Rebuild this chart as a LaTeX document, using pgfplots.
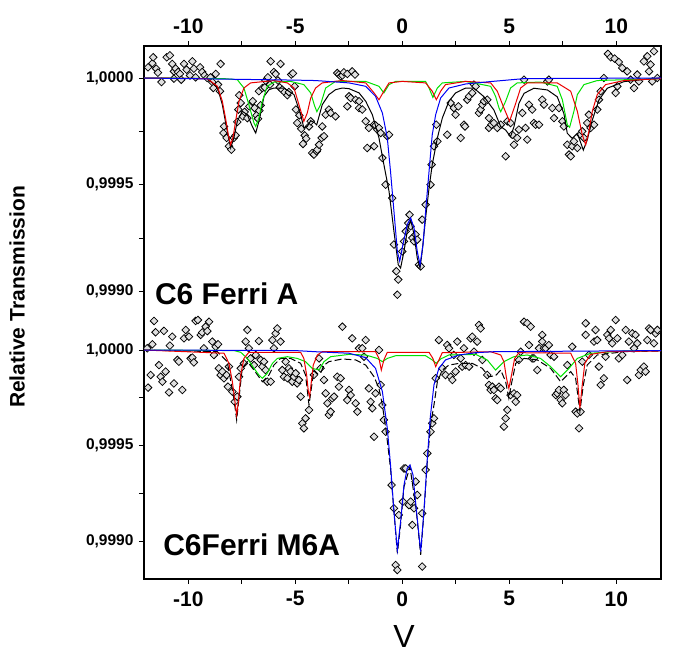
\documentclass[border=0pt]{standalone}
\usepackage{pgfplots}
\pgfplotsset{compat=1.18}
\usepackage{fontspec}
\setmainfont{Liberation Sans}
\definecolor{fitred}{RGB}{235,0,0}
\definecolor{fitgreen}{RGB}{0,225,0}
\definecolor{fitblue}{RGB}{0,0,245}
\begin{document}
\begin{tikzpicture}
\useasboundingbox (0pt,0pt) rectangle (675pt,664pt);
\pgfplotsset{
  panel/.style={
    scale only axis, width=517pt,
    xmin=-12.07, xmax=12.09,
    xtick={-10,-5,0,5,10}, minor xtick={-7.5,-2.5,2.5,7.5},
    ytick={0.999,0.9995,1}, minor ytick={0.99925,0.99975},
    tick align=outside, major tick length=5pt, minor tick length=5pt,
    ytick pos=left,
    axis line style={draw=none},
    tick style={black, line width=0.9pt},
    clip mode=individual,
    /pgf/number format/assume math mode=true,
    scaled y ticks=false,
    yticklabel style={/pgf/number format/fixed, /pgf/number format/fixed zerofill,
      /pgf/number format/precision=4, /pgf/number format/use comma,
      font=\bfseries\fontsize{15.5}{15.5}\selectfont, xshift=-2pt},
    xticklabel style={font=\bfseries\fontsize{21}{21}\selectfont},
  },
  pts/.style={only marks, mark=square*, mark size=2.7pt,
    mark options={rotate=45, fill=gray!25, draw=black, line width=0.75pt}},
  fit/.style={no marks, line width=1pt},
}
% ---------------- top panel ----------------
\begin{axis}[panel, at={(144pt,352pt)}, anchor=south west, height=266pt,
  ymin=0.998903, ymax=1.000150,
  xtick pos=right, xticklabel pos=right,
  xticklabel style={yshift=4pt}]
\draw[line width=1.2pt] (rel axis cs:0,0) -- (rel axis cs:0,1) -- (rel axis cs:1,1) -- (rel axis cs:1,0);
\addplot[pts] coordinates {
(-11.88,1.000050) (-11.68,1.000069) (-11.64,1.000097) (-11.50,1.000044) (-11.42,1.000025)
(-11.25,0.999981) (-11.01,1.000097) (-10.86,1.000106) (-10.75,1.000066) (-10.67,1.000031)
(-10.67,0.999997) (-10.59,1.000044) (-10.48,1.000028) (-10.39,1.000019) (-10.33,0.999992)
(-10.20,1.000066) (-10.08,1.000039) (-9.92,1.000012) (-9.81,1.000078) (-9.74,1.000044)
(-9.66,1.000003) (-9.45,1.000050) (-9.35,1.000028) (-9.24,1.000012) (-9.12,1.000000)
(-8.96,1.000003) (-8.88,0.999981) (-8.83,0.999953) (-8.72,1.000019) (-8.61,0.999969)
(-8.52,0.999938) (-8.49,1.000066) (-8.36,0.999742) (-8.33,0.999773) (-8.21,0.999719)
(-8.10,0.999680) (-7.99,0.999664) (-7.87,0.999719) (-7.79,0.999731) (-7.71,0.999794)
(-7.66,0.999852) (-7.62,0.999919) (-7.55,0.999883) (-7.45,0.999820) (-7.37,0.999841)
(-7.24,0.999812) (-7.15,0.999867) (-6.99,0.999891) (-6.90,0.999859) (-6.81,0.999825)
(-6.74,0.999809) (-6.70,0.999938) (-6.68,0.999847) (-6.62,0.999872) (-6.54,0.999953)
(-6.43,0.999956) (-6.39,0.999988) (-6.28,1.000003) (-6.18,0.999969) (-6.15,1.000078)
(-6.00,1.000028) (-5.92,1.000019) (-5.81,0.999988) (-5.73,0.999956) (-5.69,1.000066)
(-5.61,0.999945) (-5.50,0.999934) (-5.37,0.999919) (-5.30,0.999934) (-5.19,1.000016)
(-5.11,1.000022) (-5.03,0.999961) (-4.97,0.999852) (-4.91,0.999789) (-4.81,0.999825)
(-4.72,0.999762) (-4.64,0.999691) (-4.56,0.999731) (-4.49,0.999716) (-4.36,0.999773)
(-4.28,0.999797) (-4.21,0.999648) (-4.13,0.999641) (-4.00,0.999656) (-3.97,0.999664)
(-3.89,0.999687) (-3.77,0.999719) (-3.74,0.999773) (-3.66,0.999727) (-3.58,0.999828)
(-3.43,0.999852) (-3.35,0.999836) (-3.12,0.999820) (-3.04,1.000023) (-2.96,1.000016)
(-2.88,1.000008) (-2.80,1.000012) (-2.73,1.000027) (-2.57,1.000019) (-2.57,0.999867)
(-2.49,0.999914) (-2.41,0.999906) (-2.34,1.000031) (-2.21,1.000016) (-2.18,0.999898)
(-2.02,0.999891) (-2.02,0.999859) (-1.87,0.999852) (-1.71,0.999797) (-1.64,0.999672)
(-1.56,0.999766) (-1.32,0.999781) (-1.32,0.999680) (-1.25,0.999778) (-1.17,0.999758)
(-1.09,0.999766) (-1.01,0.999742) (-0.93,0.999625) (-0.78,0.999500) (-0.70,0.999727)
(-0.62,0.999734) (-0.47,0.999437) (-0.39,0.999219) (-0.28,0.999094) (-0.23,0.998984)
(-0.19,0.999055) (0.00,0.999187) (0.08,0.999234) (0.16,0.999281) (0.28,0.999320)
(0.34,0.999359) (0.39,0.999305) (0.47,0.999250) (0.55,0.999234) (0.62,0.999266)
(0.70,0.999242) (0.78,0.999125) (0.86,0.999117) (0.93,0.999336) (1.09,0.999406)
(1.32,0.999500) (1.37,0.999594) (1.48,0.999680) (1.59,0.999781) (1.64,0.999703)
(2.10,0.999734) (2.26,0.999883) (2.41,0.999859) (2.49,0.999828) (2.62,0.999867)
(2.73,0.999719) (2.88,0.999781) (2.93,0.999773) (3.04,0.999898) (3.12,0.999914)
(3.27,0.999930) (3.35,0.999969) (3.43,0.999961) (3.58,0.999836) (3.66,0.999852)
(3.74,0.999875) (3.82,0.999891) (3.97,0.999898) (4.05,0.999812) (4.05,0.999766)
(4.17,0.999781) (4.28,0.999789) (4.44,0.999766) (4.60,0.999781) (4.83,0.999633)
(4.91,0.999797) (5.06,0.999789) (5.14,0.999734) (5.22,0.999687) (5.37,0.999719)
(5.45,0.999758) (5.61,0.999836) (5.69,0.999992) (5.76,0.999766) (5.84,0.999711)
(5.92,0.999875) (6.07,0.999852) (6.15,0.999789) (6.23,0.999781) (6.39,0.999781)
(6.54,0.999898) (6.62,0.999875) (6.78,0.999984) (6.85,0.999992) (7.01,0.999859)
(7.09,0.999812) (7.32,0.999859) (7.48,0.999797) (7.55,0.999773) (7.71,0.999687)
(7.79,0.999641) (7.87,0.999633) (7.94,0.999680) (8.02,0.999703) (8.18,0.999672)
(8.33,0.999734) (8.41,0.999750) (8.49,0.999719) (8.64,0.999789) (8.72,0.999828)
(8.80,0.999766) (8.96,0.999781) (9.11,0.999852) (9.19,0.999898) (9.27,0.999938)
(9.42,1.000000) (9.61,1.000113) (9.74,1.000097) (9.92,1.000091) (9.97,0.999930)
(10.05,0.999961) (10.12,1.000075) (10.28,1.000047) (10.51,1.000031) (10.67,0.999992)
(10.83,0.999953) (10.98,1.000016) (11.06,0.999984) (11.29,1.000078) (11.45,1.000102)
(11.53,1.000031) (11.60,1.000063) (11.68,0.999984) (11.76,1.000125) (11.92,1.000000)
};
% total fit (black)
\addplot[fit, black] coordinates {
(-12.07,1.000000) (-9.11,0.999997) (-8.64,0.999956) (-8.41,0.999875) (-8.21,0.999766)
(-8.02,0.999672) (-7.87,0.999719) (-7.71,0.999797) (-7.48,0.999844) (-7.24,0.999828)
(-7.01,0.999773) (-6.85,0.999742) (-6.70,0.999797) (-6.46,0.999914) (-6.23,0.999945)
(-6.00,0.999953) (-5.53,0.999953) (-5.06,0.999922) (-4.75,0.999828) (-4.60,0.999766)
(-4.44,0.999773) (-4.28,0.999800) (-4.10,0.999790) (-4.00,0.999780) (-3.74,0.999875)
(-3.43,0.999922) (-3.12,0.999945) (-2.80,0.999953) (-2.49,0.999950) (-2.02,0.999930)
(-1.71,0.999891) (-1.40,0.999828) (-1.09,0.999719) (-0.86,0.999594) (-0.62,0.999469)
(-0.39,0.999281) (-0.19,0.999125) (-0.08,0.999109) (0.08,0.999187) (0.23,0.999281)
(0.39,0.999336) (0.55,0.999266) (0.70,0.999156) (0.83,0.999109) (0.93,0.999187)
(1.09,0.999344) (1.25,0.999484) (1.40,0.999594) (1.64,0.999719) (1.87,0.999812)
(2.18,0.999891) (2.49,0.999930) (2.96,0.999953) (3.35,0.999952) (3.82,0.999912)
(4.28,0.999850) (4.60,0.999772) (4.83,0.999756) (5.06,0.999725) (5.22,0.999772)
(5.45,0.999881) (5.69,0.999928) (6.15,0.999952) (6.78,0.999944) (7.24,0.999912)
(7.55,0.999834) (7.71,0.999741) (7.94,0.999717) (8.18,0.999741) (8.46,0.999662)
(8.64,0.999709) (8.88,0.999803) (9.19,0.999897) (9.58,0.999952) (10.36,0.999983)
(11.76,0.999998) (12.09,1.000000)
};
% green sextet
\addplot[fit, fitgreen] coordinates {
(-12.07,1.000000) (-8.33,0.999997) (-7.71,0.999992) (-7.40,0.999953) (-7.17,0.999875)
(-6.93,0.999789) (-6.85,0.999773) (-6.70,0.999812) (-6.54,0.999891) (-6.31,0.999961)
(-6.00,0.999981) (-5.22,0.999984) (-4.60,0.999969) (-4.28,0.999930) (-4.10,0.999870)
(-3.99,0.999842) (-3.82,0.999875) (-3.58,0.999953) (-3.12,0.999984) (-1.71,0.999984)
(-1.09,0.999961) (-0.86,0.999930) (-0.62,0.999969) (-0.31,0.999984) (1.09,0.999984)
(1.25,0.999953) (1.43,0.999909) (1.64,0.999953) (1.87,0.999977) (2.96,0.999984)
(3.74,0.999969) (4.13,0.999961) (4.36,0.999914) (4.52,0.999859) (4.60,0.999842)
(4.83,0.999891) (5.06,0.999953) (5.37,0.999977) (6.46,0.999981) (7.24,0.999961)
(7.48,0.999898) (7.71,0.999781) (7.82,0.999769) (8.02,0.999844) (8.18,0.999922)
(8.49,0.999969) (9.11,0.999988) (12.09,0.999997)
};
% red sextet
\addplot[fit, fitred] coordinates {
(-12.07,1.000000) (-9.11,0.999997) (-8.64,0.999961) (-8.41,0.999891) (-8.26,0.999812)
(-8.13,0.999734) (-8.02,0.999687) (-7.90,0.999727) (-7.79,0.999797) (-7.63,0.999891)
(-7.40,0.999953) (-7.09,0.999977) (-6.00,0.999988) (-5.37,0.999977) (-5.06,0.999953)
(-4.83,0.999875) (-4.60,0.999797) (-4.44,0.999836) (-4.28,0.999906) (-4.05,0.999953)
(-3.74,0.999977) (-2.80,0.999988) (-1.71,0.999977) (-1.32,0.999930) (-1.09,0.999898)
(-0.86,0.999938) (-0.62,0.999977) (0.00,0.999984) (1.09,0.999977) (1.40,0.999938)
(1.59,0.999898) (1.79,0.999938) (2.02,0.999969) (2.96,0.999984) (4.13,0.999977)
(4.44,0.999938) (4.75,0.999859) (5.01,0.999797) (5.28,0.999875) (5.53,0.999953)
(5.84,0.999977) (7.24,0.999977) (7.87,0.999938) (8.18,0.999844) (8.41,0.999734)
(8.57,0.999687) (8.72,0.999750) (8.88,0.999844) (9.11,0.999922) (9.50,0.999969)
(10.36,0.999988) (12.09,0.999997)
};
% blue doublet
\addplot[fit, fitblue] coordinates {
(-12.07,1.000000) (-5.00,0.999990) (-4.05,0.999988) (-2.49,0.999977) (-1.71,0.999961)
(-1.25,0.999914) (-0.93,0.999836) (-0.70,0.999719) (-0.55,0.999562) (-0.39,0.999375)
(-0.23,0.999187) (-0.12,0.999141) (0.03,0.999219) (0.23,0.999312) (0.39,0.999344)
(0.55,0.999297) (0.70,0.999187) (0.83,0.999125) (0.97,0.999219) (1.09,0.999375)
(1.25,0.999562) (1.40,0.999734) (1.56,0.999828) (1.79,0.999906) (2.18,0.999953)
(2.96,0.999972) (4.21,0.999984) (5.69,0.999997) (12.09,1.000000)
};
\node[anchor=base west, font=\bfseries\fontsize{30}{30}\selectfont, inner sep=0pt]
  at (rel axis cs:0.021,0.027) {C6 Ferri A};
\end{axis}
% ---------------- bottom panel ----------------
\begin{axis}[panel, at={(144pt,85pt)}, anchor=south west, height=267pt,
  ymin=0.998801, ymax=1.000199,
  xtick pos=left, xticklabel pos=left,
  xticklabel style={yshift=-4pt}]
\draw[line width=1.2pt] (rel axis cs:0,1) -- (rel axis cs:0,0) -- (rel axis cs:1,0) -- (rel axis cs:1,1);
\addplot[pts] coordinates {
(-11.92,1.000009) (-11.88,0.999803) (-11.76,0.999869) (-11.68,1.000030) (-11.60,1.000152)
(-11.53,1.000093) (-11.37,0.999921) (-11.29,0.999860) (-11.21,0.999834) (-11.14,1.000100)
(-11.06,0.999887) (-10.90,0.999778) (-10.86,1.000023) (-10.75,1.000070) (-10.67,0.999825)
(-10.51,0.999948) (-10.44,0.999939) (-10.28,0.999791) (-10.20,1.000061) (-10.12,1.000105)
(-9.97,1.000070) (-9.89,0.999956) (-9.81,0.999960) (-9.74,0.999935) (-9.66,1.000152)
(-9.55,1.000157) (-9.42,1.000079) (-9.35,1.000092) (-9.27,1.000009) (-9.19,1.000122)
(-9.11,1.000099) (-9.03,1.000148) (-8.88,1.000044) (-8.80,0.999974) (-8.72,1.000017)
(-8.61,1.000030) (-8.57,0.999904) (-8.49,0.999869) (-8.41,0.999887) (-8.33,0.999852)
(-8.21,0.999869) (-8.15,0.999808) (-8.10,0.999913) (-7.94,0.999782) (-7.83,0.999729)
(-7.71,0.999756) (-7.63,0.999860) (-7.55,0.999904) (-7.40,0.999930) (-7.32,1.000044)
(-7.24,1.000105) (-7.17,1.000009) (-7.09,0.999956) (-6.93,0.999921) (-6.85,0.999974)
(-6.70,1.000047) (-6.62,0.999948) (-6.54,0.999913) (-6.46,0.999939) (-6.39,0.999895)
(-6.31,0.999834) (-6.15,0.999834) (-6.07,1.000052) (-6.00,1.000009) (-5.92,1.000087)
(-5.84,1.000113) (-5.69,1.000044) (-5.61,0.999895) (-5.53,0.999860) (-5.45,0.999939)
(-5.37,0.999852) (-5.30,0.999904) (-5.22,0.999887) (-5.14,0.999834) (-5.06,0.999860)
(-4.98,0.999878) (-4.91,0.999825) (-4.83,0.999843) (-4.75,0.999756) (-4.67,0.999616)
(-4.60,0.999590) (-4.52,0.999642) (-4.36,0.999686) (-4.13,0.999870) (-3.89,0.999956)
(-3.82,0.999904) (-3.66,0.999843) (-3.58,0.999773) (-3.50,0.999721) (-3.43,0.999660)
(-3.35,0.999677) (-3.27,0.999747) (-3.19,0.999756) (-3.04,0.999860) (-2.96,0.999808)
(-2.88,0.999852) (-2.80,1.000122) (-2.57,0.999738) (-2.49,0.999791) (-2.41,0.999764)
(-2.34,1.000061) (-2.18,0.999721) (-2.10,0.999677) (-2.02,1.000009) (-1.87,1.000009)
(-1.79,0.999965) (-1.71,1.000052) (-1.56,0.999799) (-1.48,0.999729) (-1.40,0.999695)
(-1.32,0.999546) (-1.25,0.999773) (-1.09,1.000000) (-1.01,0.999817) (-0.93,0.999712)
(-0.86,0.999634) (-0.78,0.999572) (-0.50,0.999293) (-0.39,0.999171) (-0.31,0.998874)
(-0.23,0.998848) (-0.16,0.999136) (0.03,0.999206) (0.08,0.999380) (0.16,0.999380)
(0.31,0.999188) (0.39,0.999206) (0.47,0.999084) (0.55,0.999171) (0.62,0.999311)
(0.70,0.999241) (0.93,0.998866) (0.93,0.999145) (1.09,0.999372) (1.17,0.999459)
(1.32,0.999572) (1.40,0.999616) (1.48,0.999642) (1.56,0.999852) (1.71,1.000052)
(1.87,0.999904) (2.02,0.999869) (2.10,1.000026) (2.18,1.000009) (2.26,0.999860)
(2.34,0.999843) (2.41,0.999974) (2.49,0.999887) (2.57,1.000044) (2.73,0.999956)
(2.80,0.999913) (2.88,1.000009) (2.96,0.999921) (3.12,0.999913) (3.19,1.000061)
(3.27,1.000070) (3.35,0.999991) (3.50,1.000044) (3.58,1.000131) (3.66,1.000113)
(3.74,0.999948) (3.97,0.999869) (4.05,0.999817) (4.13,0.999791) (4.21,0.999808)
(4.28,0.999791) (4.36,0.999747) (4.44,0.999738) (4.52,0.999808) (4.60,0.999799)
(4.75,0.999599) (4.83,0.999642) (4.91,0.999686) (5.06,0.999764) (5.22,0.999773)
(5.30,0.999729) (5.37,0.999764) (5.45,0.999948) (5.53,0.999991) (5.69,1.000148)
(5.84,1.000140) (5.92,1.000026) (6.00,1.000122) (6.07,0.999956) (6.15,0.999956)
(6.31,0.999895) (6.39,1.000009) (6.54,1.000079) (6.54,1.000044) (6.62,1.000009)
(6.70,1.000009) (6.85,1.000026) (6.93,0.999974) (7.09,0.999965) (7.17,0.999764)
(7.24,0.999773) (7.32,0.999791) (7.40,0.999738) (7.48,0.999721) (7.55,0.999791)
(7.63,0.999764) (7.71,0.999921) (7.94,1.000017) (8.10,0.999677) (8.18,0.999668)
(8.26,0.999590) (8.33,0.999677) (8.41,0.999939) (8.57,1.000140) (8.57,1.000079)
(8.72,0.999974) (8.96,1.000044) (9.03,1.000105) (9.11,1.000052) (9.19,0.999913)
(9.27,0.999817) (9.42,0.999852) (9.50,0.999965) (9.58,1.000079) (9.66,1.000061)
(9.74,1.000105) (9.81,1.000035) (9.97,1.000157) (10.05,1.000061) (10.12,0.999956)
(10.28,0.999974) (10.44,1.000105) (10.51,0.999843) (10.59,1.000044) (10.75,1.000087)
(10.83,1.000009) (10.90,1.000079) (10.98,1.000035) (11.06,0.999869) (11.14,0.999895)
(11.29,0.999913) (11.37,0.999887) (11.45,1.000052) (11.53,1.000113) (11.60,1.000105)
(11.76,1.000035) (11.84,1.000087) (11.92,1.000105)
};
% total fit (black, dashed)
\addplot[fit, black, dash pattern=on 7pt off 3pt] coordinates {
(-12.07,1.000000) (-8.64,0.999991) (-8.18,0.999939) (-7.87,0.999747) (-7.74,0.999634)
(-7.63,0.999747) (-7.48,0.999904) (-7.24,0.999939) (-6.93,0.999895) (-6.54,0.999834)
(-6.23,0.999869) (-6.00,0.999921) (-5.69,0.999956) (-5.22,0.999956) (-4.75,0.999930)
(-4.52,0.999869) (-4.36,0.999712) (-4.25,0.999799) (-4.13,0.999895) (-3.95,0.999875)
(-3.82,0.999878) (-3.66,0.999920) (-3.43,0.999939) (-2.80,0.999953) (-2.18,0.999948)
(-1.71,0.999921) (-1.32,0.999860) (-1.09,0.999799) (-0.93,0.999712) (-0.75,0.999572)
(-0.55,0.999380) (-0.39,0.999154) (-0.23,0.998935) (-0.08,0.999084) (0.08,0.999284)
(0.36,0.999389) (0.65,0.999162) (0.86,0.998927) (1.01,0.999145) (1.17,0.999415)
(1.32,0.999607) (1.48,0.999712) (1.64,0.999834) (1.87,0.999895) (2.18,0.999921)
(2.65,0.999930) (3.27,0.999930) (3.74,0.999904) (4.05,0.999860) (4.36,0.999866)
(4.60,0.999895) (4.83,0.999834) (4.98,0.999747) (5.09,0.999817) (5.30,0.999930)
(5.69,0.999956) (6.31,0.999948) (6.93,0.999904) (7.40,0.999834) (7.87,0.999887)
(8.10,0.999852) (8.30,0.999677) (8.46,0.999817) (8.64,0.999921) (9.11,0.999974)
(10.36,0.999991) (12.09,0.999995)
};
% green sextet
\addplot[fit, fitgreen] coordinates {
(-12.07,1.000000) (-7.87,0.999997) (-7.55,0.999988) (-7.24,0.999956) (-6.93,0.999904)
(-6.70,0.999869) (-6.54,0.999852) (-6.31,0.999878) (-6.07,0.999930) (-5.84,0.999956)
(-5.37,0.999965) (-4.91,0.999956) (-4.52,0.999939) (-4.21,0.999904) (-3.89,0.999895)
(-3.66,0.999939) (-3.35,0.999965) (-2.49,0.999977) (-1.71,0.999974) (-1.17,0.999956)
(-0.93,0.999939) (-0.70,0.999956) (-0.31,0.999970) (1.09,0.999970) (1.40,0.999948)
(1.59,0.999930) (1.79,0.999953) (2.18,0.999974) (3.43,0.999977) (3.97,0.999948)
(4.36,0.999895) (4.75,0.999939) (5.22,0.999965) (5.84,0.999974) (6.46,0.999956)
(6.93,0.999913) (7.40,0.999860) (7.79,0.999904) (8.18,0.999956) (8.80,0.999983)
(10.36,0.999995) (12.09,0.999997)
};
% red sextet
\addplot[fit, fitred] coordinates {
(-12.07,1.000000) (-8.33,0.999983) (-8.10,0.999930) (-7.94,0.999834) (-7.82,0.999729)
(-7.74,0.999660) (-7.66,0.999729) (-7.55,0.999869) (-7.40,0.999956) (-7.17,0.999988)
(-4.75,0.999988) (-4.60,0.999956) (-4.47,0.999869) (-4.39,0.999782) (-4.33,0.999756)
(-4.25,0.999834) (-4.16,0.999921) (-3.97,0.999974) (-3.74,0.999991) (-1.25,0.999991)
(-1.09,0.999956) (-0.98,0.999895) (-0.86,0.999948) (-0.70,0.999988) (1.25,0.999988)
(1.43,0.999956) (1.56,0.999913) (1.71,0.999948) (1.87,0.999986) (4.13,0.999991)
(4.60,0.999974) (4.75,0.999939) (4.87,0.999852) (4.98,0.999799) (5.09,0.999860)
(5.25,0.999956) (5.45,0.999986) (7.87,0.999983) (8.10,0.999930) (8.21,0.999817)
(8.30,0.999695) (8.41,0.999817) (8.53,0.999930) (8.80,0.999977) (9.58,0.999991)
(12.09,0.999995)
};
% blue doublet
\addplot[fit, fitblue] coordinates {
(-12.07,1.000000) (-5.00,0.999997) (-4.05,0.999991) (-2.49,0.999983) (-1.71,0.999960)
(-1.25,0.999904) (-0.93,0.999782) (-0.70,0.999590) (-0.55,0.999398) (-0.39,0.999154)
(-0.23,0.998953) (-0.08,0.999100) (0.08,0.999293) (0.23,0.999380) (0.36,0.999398)
(0.50,0.999346) (0.65,0.999171) (0.86,0.998944) (1.01,0.999154) (1.17,0.999433)
(1.32,0.999660) (1.48,0.999817) (1.71,0.999904) (2.02,0.999948) (2.65,0.999974)
(3.43,0.999986) (4.27,0.999991) (12.09,0.999997)
};
\node[anchor=base west, font=\bfseries\fontsize{30}{30}\selectfont, inner sep=0pt]
  at (rel axis cs:0.037,0.087) {C6Ferri M6A};
\end{axis}
\node[rotate=90, font=\bfseries\fontsize{21}{21}\selectfont] at (17pt,367pt) {Relative Transmission};
\node[anchor=base, font=\fontsize{32}{32}\selectfont, inner sep=0pt] at (404pt,16pt) {V};
\end{tikzpicture}
\end{document}
